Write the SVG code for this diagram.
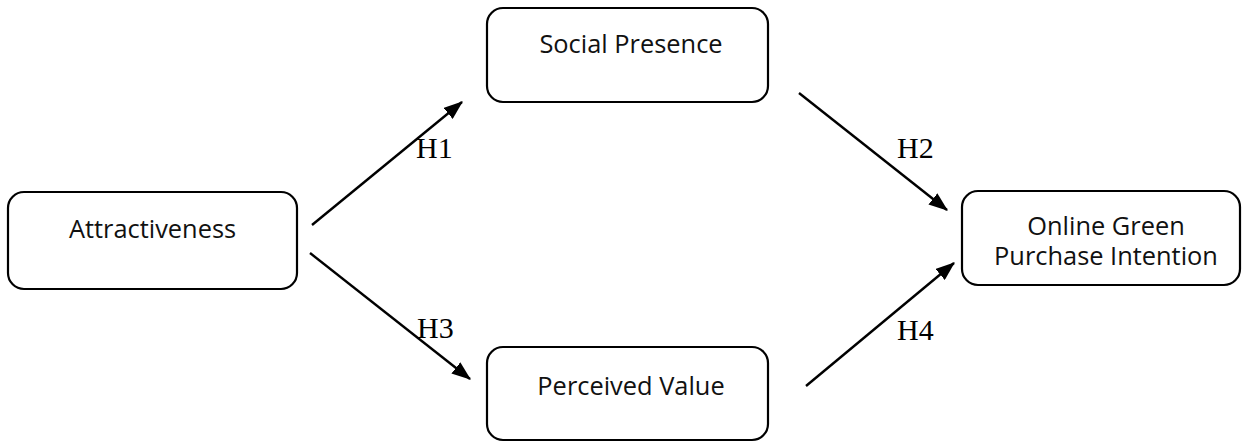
<svg xmlns="http://www.w3.org/2000/svg" width="1243" height="443" viewBox="0 0 1243 443">
<style>
.box{fill:#fff;stroke:#000;stroke-width:2.2}
.t{font-family:"Open Sans","Liberation Sans",sans-serif;font-size:25.4px;fill:#111;text-anchor:middle}
.h{font-family:"Liberation Serif","Times New Roman",serif;font-size:30px;fill:#000}
.c{stroke:#000;stroke-width:2.4;fill:none;marker-end:url(#ah)}
</style>
<defs>
<marker id="ah" markerWidth="8" markerHeight="6" refX="7.5" refY="3" orient="auto" markerUnits="strokeWidth">
<path d="M0,0 L8,3 L0,6 Z" fill="#000"/>
</marker>
</defs>
<rect width="1243" height="443" fill="#fff"/>
<g id="attractiveness">
<rect class="box" x="8" y="192" width="289" height="97" rx="16"/>
<text class="t" x="152.5" y="238">Attractiveness</text>
</g>
<g id="social-presence">
<rect class="box" x="487" y="8" width="281" height="94" rx="16"/>
<text class="t" x="631" y="53">Social Presence</text>
</g>
<g id="perceived-value">
<rect class="box" x="487" y="347" width="281" height="93" rx="16"/>
<text class="t" x="631" y="395">Perceived Value</text>
</g>
<g id="online-green">
<rect class="box" x="962" y="191" width="278" height="94" rx="16"/>
<text class="t" x="1106" y="235">Online Green</text>
<text class="t" x="1106" y="265">Purchase Intention</text>
</g>
<g id="connectors">
<line class="c" x1="312" y1="225" x2="462" y2="102"/>
<line class="c" x1="310" y1="253" x2="470" y2="379"/>
<line class="c" x1="799" y1="93" x2="947" y2="210"/>
<line class="c" x1="806" y1="386" x2="954" y2="263"/>
<text class="h" x="416" y="158">H1</text>
<text class="h" x="897" y="158">H2</text>
<text class="h" x="417" y="338">H3</text>
<text class="h" x="897" y="340">H4</text>
</g>
</svg>
